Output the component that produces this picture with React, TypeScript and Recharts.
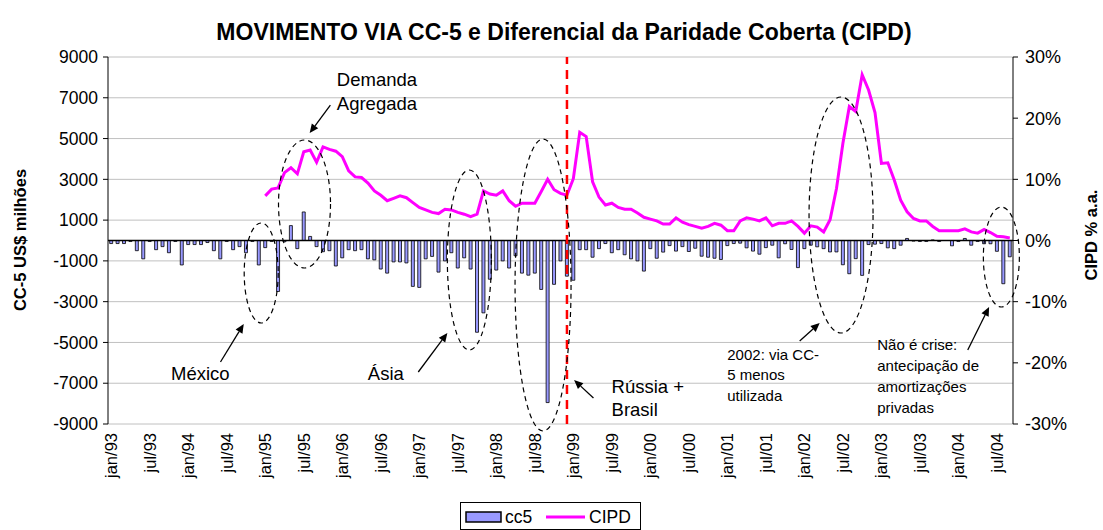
import {
  Bar,
  CartesianGrid,
  ComposedChart,
  Line,
  ReferenceDot,
  ReferenceLine,
  XAxis,
  YAxis,
} from 'recharts';

const monthNames = ['jan', 'fev', 'mar', 'abr', 'mai', 'jun', 'jul', 'ago', 'set', 'out', 'nov', 'dez'];
const yearNames = ['93', '94', '95', '96', '97', '98', '99', '00', '01', '02', '03', '04'];

// CC-5 net flows, US$ millions (jan/93 .. set/04)
const cc5 = [
  -150, -150, -150, -50, -500, -900, -50, -450, -300, -600, -50, -1200,
  -200, -200, -200, -100, -500, -900, -50, -450, -300, -600, -50, -1200,
  -350, -50, -2500, -60, 730, -400, 1400, 200, -300, -550, -500, -1250,
  -850, -450, -500, -450, -900, -950, -1400, -1600, -1050, -1050, -1100, -2250,
  -2300, -900, -780, -1550, -1000, -600, -1350, -850, -1400, -4500, -3550, -1900,
  -1450, -1000, -1350, -750, -1600, -1700, -1600, -2400, -7950, -2150, -1000, -1750,
  -1950, -450, -450, -820, -400, -150, -600, -450, -700, -900, -1000, -1500,
  -400, -870, -570, -250, -520, -300, -540, -380, -770, -820, -870, -930,
  -250, -150, -130, -360, -520, -670, -350, -230, -850, -160, -440, -1330,
  -400, -230, -310, -400, -560, -560, -1190, -1630, -890, -1710, -200, -180,
  -150, -360, -400, -230, 100, -30, -50, -50, 30, -50, 0, -260,
  -50, 100, -230, -50, -160, -160, -530, -2120, -800,
];

// CIPD, % a.a. (starts jan/95)
const cipd: (number | null)[] = [
  null, null, null, null, null, null, null, null, null, null, null, null,
  null, null, null, null, null, null, null, null, null, null, null, null,
  7.3, 8.4, 8.6, 11.1, 11.9, 10.9, 14.5, 14.8, 12.8, 15.3, 14.9, 14.6,
  13.7, 11.4, 10.4, 10.3, 9.4, 8.1, 7.4, 6.5, 6.9, 7.3, 7.0, 6.2,
  5.4, 5.0, 4.6, 4.4, 5.1, 5.0, 4.6, 4.3, 3.9, 4.3, 8.1, 7.6,
  7.4, 8.1, 6.5, 5.6, 6.1, 6.1, 6.1, 8.0, 10.0, 8.3, 7.7, 7.4,
  10.1, 17.7, 17.0, 9.6, 7.1, 5.8, 6.1, 5.4, 5.1, 5.1, 4.5, 3.8,
  3.5, 3.2, 2.7, 2.7, 3.7, 3.0, 2.6, 2.3, 2.0, 2.3, 2.8, 2.5,
  1.6, 1.6, 3.2, 3.7, 3.5, 3.2, 3.7, 2.4, 2.8, 2.8, 3.2, 2.3,
  1.2, 2.4, 2.2, 1.4, 3.4, 8.5, 15.9, 21.9, 21.1, 27.1, 24.6, 20.9,
  12.6, 12.7, 9.9, 6.6, 4.7, 3.6, 3.2, 3.2, 2.3, 1.6, 1.6, 1.6,
  1.6, 1.9, 1.4, 1.2, 1.8, 1.3, 0.7, 0.6, 0.4,
];

const leftTicks = [-9000, -7000, -5000, -3000, -1000, 1000, 3000, 5000, 7000, 9000];
const rightTicks = [-30, -20, -10, 0, 10, 20, 30];

const months = yearNames.flatMap((y) => monthNames.map((m) => `${m}/${y}`)).slice(0, cc5.length);
const rows = months.map((month, i) => ({ month, cc5: cc5[i], cipd: cipd[i] }));

// annotations, placed in (month index, US$ millions) coordinates
const crisisLine = 71;

const ellipses = [
  { x: 23.7, y: -1594, rx: 17, ry: 50 },
  { x: 30.4, y: 1790, rx: 26, ry: 64 },
  { x: 55.9, y: -956, rx: 22, ry: 90 },
  { x: 67.3, y: -2183, rx: 28, ry: 146 },
  { x: 113.4, y: 1250, rx: 32, ry: 118 },
  { x: 138.2, y: -810, rx: 18, ry: 50 },
];

const arrows = [
  { from: { x: 34.4, y: 6645 }, to: { x: 31.2, y: 5272 } },
  { from: { x: 17.4, y: -5959 }, to: { x: 21.0, y: -4095 } },
  { from: { x: 48.0, y: -6449 }, to: { x: 52.5, y: -4536 } },
  { from: { x: 75.1, y: -7724 }, to: { x: 72.1, y: -6842 } },
  { from: { x: 107.0, y: -4929 }, to: { x: 110.1, y: -4046 } },
  { from: { x: 133.0, y: -5370 }, to: { x: 136.3, y: -3261 } },
];

const notes = [
  { x: 35.4, y: 7577, lines: ['Demanda', 'Agregada'], size: 18.5, gap: 24 },
  { x: 9.75, y: -6842, lines: ['México'], size: 18.5, gap: 0 },
  { x: 40.2, y: -6842, lines: ['Ásia'], size: 18.5, gap: 0 },
  { x: 77.9, y: -7479, lines: ['Rússia +', 'Brasil'], size: 18.5, gap: 23 },
  { x: 95.8, y: -5861, lines: ['2002: via CC-', '5 menos', 'utilizada'], size: 15, gap: 20.5 },
  { x: 119.0, y: -5370, lines: ['Não é crise:', 'antecipação de', 'amortizações', 'privadas'], size: 15, gap: 21 },
];

const colors = {
  bar: '#9999ff',
  line: '#ff00ff',
  grid: '#c0c0c0',
  crisis: '#ff0000',
};

const font = '"Liberation Sans", Arial, sans-serif';

function MonthTick(props: any) {
  const { x, y, payload } = props;
  return (
    <text
      x={x}
      y={y}
      transform={`rotate(-90 ${x} ${y})`}
      textAnchor="end"
      dy="0.36em"
      fontSize={16.5}
      fill="#000"
    >
      {payload.value}
    </text>
  );
}

function ArrowShape(props: any) {
  const { x1, y1, x2, y2 } = props;
  if ([x1, y1, x2, y2].some((v) => typeof v !== 'number' || Number.isNaN(v))) {
    return <g />;
  }
  const a = Math.atan2(y2 - y1, x2 - x1);
  const len = 9;
  const half = 4;
  const bx = x2 - len * Math.cos(a);
  const by = y2 - len * Math.sin(a);
  const pts = `${x2},${y2} ${bx + half * Math.sin(a)},${by - half * Math.cos(a)} ${bx - half * Math.sin(a)},${by + half * Math.cos(a)}`;
  return (
    <g>
      <line x1={x1} y1={y1} x2={bx} y2={by} stroke="#000" strokeWidth={1.3} />
      <polygon points={pts} fill="#000" />
    </g>
  );
}

export default function App() {
  return (
    <div style={{ position: 'absolute', left: 0, top: 0, width: 1103, height: 530, background: '#fff', fontFamily: font }}>
      <ComposedChart
        width={1103}
        height={530}
        data={rows}
        margin={{ top: 57, right: 0, bottom: 0, left: 0 }}
        barCategoryGap="26%"
      >
        <CartesianGrid xAxisId="cat" yAxisId="left" vertical={false} stroke={colors.grid} />
        <XAxis
          xAxisId="cat"
          dataKey="month"
          interval={5}
          height={106}
          axisLine={false}
          tickLine={false}
          tickSize={0}
          tickMargin={9}
          tick={<MonthTick />}
        />
        <XAxis xAxisId="num" type="number" domain={[0, cc5.length]} allowDataOverflow hide />
        <YAxis
          yAxisId="left"
          width={108}
          domain={[-9000, 9000]}
          ticks={leftTicks}
          interval={0}
          allowDataOverflow
          stroke="#000"
          tickSize={5}
          tickMargin={5}
          tick={{ fill: '#000', fontSize: 17.5 }}
        />
        <YAxis
          yAxisId="right"
          orientation="right"
          width={90}
          domain={[-30, 30]}
          ticks={rightTicks}
          interval={0}
          allowDataOverflow
          stroke="#000"
          tickSize={5}
          tickMargin={7}
          tickFormatter={(v) => `${v}%`}
          tick={{ fill: '#000', fontSize: 18 }}
        />
        <Bar
          xAxisId="cat"
          yAxisId="left"
          dataKey="cc5"
          fill={colors.bar}
          stroke="#000"
          strokeWidth={0.8}
          isAnimationActive={false}
        />
        <ReferenceLine xAxisId="cat" yAxisId="left" y={0} stroke="#000" strokeWidth={1.5} />
        <Line
          xAxisId="cat"
          yAxisId="right"
          type="linear"
          dataKey="cipd"
          stroke={colors.line}
          strokeWidth={3}
          dot={false}
          connectNulls={false}
          isAnimationActive={false}
        />
        <ReferenceLine
          xAxisId="num"
          yAxisId="left"
          x={crisisLine}
          stroke={colors.crisis}
          strokeWidth={2.5}
          strokeDasharray="9 6"
        />
        {ellipses.map((e, i) => (
          <ReferenceDot
            key={`e${i}`}
            xAxisId="num"
            yAxisId="left"
            x={e.x}
            y={e.y}
            ifOverflow="visible"
            shape={(p: any) => (
              <ellipse cx={p.cx} cy={p.cy} rx={e.rx} ry={e.ry} fill="none" stroke="#000" strokeWidth={1.2} strokeDasharray="5 4" />
            )}
          />
        ))}
        {arrows.map((a, i) => (
          <ReferenceLine
            key={`a${i}`}
            xAxisId="num"
            yAxisId="left"
            segment={[a.from, a.to]}
            ifOverflow="visible"
            shape={(p: any) => <ArrowShape {...p} />}
          />
        ))}
        {notes.map((n, i) => (
          <ReferenceDot
            key={`n${i}`}
            xAxisId="num"
            yAxisId="left"
            x={n.x}
            y={n.y}
            ifOverflow="visible"
            shape={(p: any) => (
              <text x={p.cx} y={p.cy} fontSize={n.size} fill="#000">
                {n.lines.map((line, j) => (
                  <tspan key={j} x={p.cx} dy={j === 0 ? 0 : n.gap}>
                    {line}
                  </tspan>
                ))}
              </text>
            )}
          />
        ))}
      </ComposedChart>

      <svg
        width={1103}
        height={530}
        style={{ position: 'absolute', left: 0, top: 0, pointerEvents: 'none', fontFamily: font }}
      >
        <text x={564} y={40} textAnchor="middle" fontSize={23} fontWeight="bold" fill="#000">
          MOVIMENTO VIA CC-5 e Diferencial da Paridade Coberta (CIPD)
        </text>
        <text transform="rotate(-90)" x={-240} y={26} textAnchor="middle" fontSize={16.5} fontWeight="bold" fill="#000">
          CC-5 US$ milhões
        </text>
        <text transform="rotate(-90)" x={-235} y={1097} textAnchor="middle" fontSize={16.5} fontWeight="bold" fill="#000">
          CIPD % a.a.
        </text>
        <rect x={460.5} y={502.5} width={180} height={27} fill="#fff" stroke="#000" />
        <rect x={466} y={512} width={35} height={10} fill={colors.bar} stroke="#000" strokeWidth={1.5} />
        <text x={505} y={523} fontSize={17.5} fill="#000">cc5</text>
        <line x1={546} y1={517} x2={585} y2={517} stroke={colors.line} strokeWidth={3} />
        <text x={589} y={523} fontSize={17.5} fill="#000">CIPD</text>
      </svg>
    </div>
  );
}
